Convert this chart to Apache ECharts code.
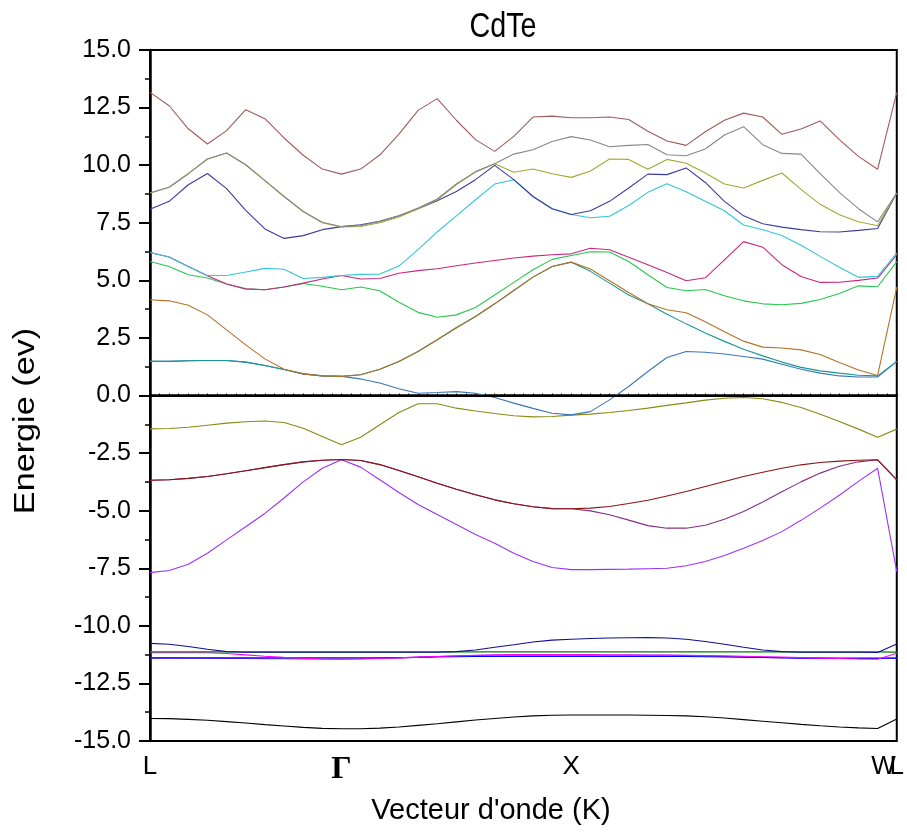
<!DOCTYPE html>
<html>
<head>
<meta charset="utf-8">
<script src="https://cdn.jsdelivr.net/npm/echarts@6/dist/echarts.min.js"></script>
<style>
  html, body { margin: 0; padding: 0; background: #fff; }
  #chart { width: 907px; height: 836px; }
</style>
</head>
<body>
<div id="chart"></div>
<script>
// k-path sampling: 40 points along L - Γ - X - W - L
const kIndex = Array.from({ length: 40 }, (_, i) => i);
const kLabels = ['L', 'Γ', 'X', 'W', 'L'];
const kLabelIndex = [0, 10, 22, 38, 39];

// Energy ticks (eV)
const energyMin = -15;
const energyMax = 15;
const energyStep = 2.5;

// ---- band energies (eV) at each k point ----
// lowest s-like valence band
const bandS = [-14.02,-14.03,-14.06,-14.10,-14.16,-14.22,-14.29,-14.35,-14.41,-14.45,
  -14.47,-14.47,-14.44,-14.39,-14.32,-14.25,-14.17,-14.09,-14.02,-13.96,
  -13.91,-13.88,-13.87,-13.87,-13.87,-13.87,-13.88,-13.89,-13.91,-13.95,
  -14.00,-14.07,-14.14,-14.21,-14.28,-14.34,-14.39,-14.43,-14.46,-14.04];

// Cd 4d manifold
const bandD1 = [-10.76,-10.80,-10.90,-11.02,-11.12,-11.15,-11.15,-11.15,-11.15,-11.15,
  -11.15,-11.15,-11.15,-11.15,-11.15,-11.15,-11.12,-11.05,-10.93,-10.82,
  -10.70,-10.62,-10.58,-10.55,-10.53,-10.52,-10.51,-10.53,-10.58,-10.68,
  -10.80,-10.93,-11.05,-11.12,-11.15,-11.15,-11.15,-11.15,-11.16,-10.79];
const bandD2 = [-11.13,-11.13,-11.13,-11.13,-11.13,-11.13,-11.13,-11.13,-11.13,-11.13,
  -11.13,-11.13,-11.13,-11.13,-11.13,-11.13,-11.13,-11.13,-11.13,-11.13,
  -11.13,-11.13,-11.13,-11.13,-11.13,-11.13,-11.13,-11.13,-11.13,-11.13,
  -11.13,-11.13,-11.13,-11.13,-11.13,-11.13,-11.13,-11.13,-11.13,-11.14];
const bandD3 = [-11.17,-11.17,-11.17,-11.17,-11.20,-11.26,-11.32,-11.37,-11.41,-11.44,
  -11.45,-11.44,-11.42,-11.39,-11.36,-11.33,-11.30,-11.28,-11.26,-11.25,
  -11.25,-11.25,-11.25,-11.25,-11.26,-11.26,-11.27,-11.27,-11.28,-11.29,
  -11.30,-11.32,-11.34,-11.36,-11.38,-11.40,-11.42,-11.44,-11.45,-11.19];
const bandD4 = [-11.39,-11.39,-11.39,-11.39,-11.39,-11.39,-11.39,-11.39,-11.39,-11.39,
  -11.39,-11.39,-11.39,-11.38,-11.37,-11.35,-11.34,-11.33,-11.33,-11.33,
  -11.33,-11.33,-11.33,-11.33,-11.33,-11.33,-11.33,-11.33,-11.33,-11.34,
  -11.35,-11.36,-11.37,-11.38,-11.40,-11.40,-11.40,-11.40,-11.40,-11.40];
const bandD5 = [-11.40,-11.40,-11.41,-11.41,-11.42,-11.42,-11.43,-11.43,-11.44,-11.44,
  -11.44,-11.43,-11.41,-11.39,-11.36,-11.33,-11.31,-11.29,-11.28,-11.27,
  -11.28,-11.28,-11.28,-11.28,-11.28,-11.28,-11.28,-11.28,-11.29,-11.31,
  -11.33,-11.35,-11.37,-11.39,-11.40,-11.41,-11.42,-11.42,-11.42,-11.40];

// upper valence bands
const bandV1 = [-7.69,-7.60,-7.33,-6.85,-6.27,-5.70,-5.12,-4.45,-3.75,-3.16,
  -2.79,-3.11,-3.66,-4.21,-4.73,-5.17,-5.60,-6.03,-6.41,-6.85,
  -7.21,-7.47,-7.56,-7.56,-7.55,-7.54,-7.52,-7.50,-7.39,-7.21,
  -6.95,-6.63,-6.30,-5.91,-5.42,-4.89,-4.33,-3.73,-3.16,-7.65];
const bandV2 = [-3.68,-3.66,-3.60,-3.52,-3.40,-3.27,-3.13,-3.00,-2.88,-2.81,
  -2.78,-2.82,-3.00,-3.26,-3.53,-3.81,-4.07,-4.31,-4.53,-4.70,
  -4.83,-4.91,-4.92,-5.01,-5.18,-5.41,-5.65,-5.76,-5.76,-5.63,
  -5.37,-5.04,-4.62,-4.18,-3.75,-3.37,-3.07,-2.88,-2.79,-3.66];
const bandV3 = [-3.68,-3.66,-3.60,-3.52,-3.40,-3.27,-3.13,-3.00,-2.88,-2.81,
  -2.78,-2.82,-3.00,-3.26,-3.53,-3.81,-4.07,-4.31,-4.53,-4.70,
  -4.83,-4.91,-4.92,-4.89,-4.82,-4.69,-4.55,-4.36,-4.17,-3.95,
  -3.73,-3.52,-3.33,-3.16,-3.01,-2.91,-2.85,-2.81,-2.79,-3.66];
const bandV4 = [-1.45,-1.43,-1.38,-1.29,-1.20,-1.14,-1.11,-1.17,-1.42,-1.78,
  -2.14,-1.81,-1.27,-0.74,-0.36,-0.36,-0.55,-0.67,-0.78,-0.88,
  -0.93,-0.91,-0.85,-0.81,-0.74,-0.65,-0.55,-0.43,-0.32,-0.20,
  -0.12,-0.09,-0.14,-0.30,-0.52,-0.81,-1.13,-1.46,-1.81,-1.46];

// conduction bands
const bandC1 = [1.48,1.48,1.51,1.52,1.52,1.45,1.30,1.13,0.94,0.85,
  0.83,0.72,0.54,0.29,0.10,0.13,0.17,0.10,-0.09,-0.33,
  -0.56,-0.77,-0.84,-0.70,-0.19,0.39,1.04,1.65,1.91,1.88,
  1.80,1.69,1.58,1.36,1.14,0.97,0.85,0.80,0.80,1.48];
const bandC2 = [1.48,1.48,1.51,1.52,1.52,1.45,1.30,1.13,0.94,0.85,
  0.83,0.90,1.14,1.48,1.91,2.42,2.95,3.43,3.98,4.56,
  5.14,5.60,5.79,5.39,4.88,4.36,3.98,3.53,3.11,2.71,
  2.35,2.01,1.72,1.45,1.22,1.07,0.97,0.88,0.85,1.48];
const bandC3 = [4.16,4.11,3.92,3.50,2.85,2.20,1.59,1.14,0.94,0.85,
  0.83,0.90,1.14,1.48,1.91,2.42,2.93,3.43,3.98,4.56,
  5.14,5.60,5.79,5.49,4.98,4.47,3.98,3.72,3.59,3.20,
  2.77,2.36,2.10,2.06,1.98,1.78,1.43,1.11,0.87,4.71];
const bandC4 = [5.82,5.60,5.24,5.10,4.84,4.63,4.59,4.71,4.86,4.74,
  4.59,4.71,4.55,4.05,3.61,3.40,3.50,3.82,4.36,4.91,
  5.46,5.91,6.08,6.24,6.23,5.82,5.24,4.69,4.55,4.60,
  4.33,4.11,3.98,3.94,4.00,4.17,4.43,4.76,4.72,5.81];
const bandC5 = [6.21,6.01,5.60,5.20,4.84,4.63,4.59,4.71,4.88,5.06,
  5.21,5.06,5.08,5.31,5.42,5.50,5.63,5.75,5.86,5.97,
  6.05,6.11,6.15,6.39,6.33,6.00,5.68,5.34,4.98,5.11,
  5.89,6.68,6.44,5.68,5.17,4.91,4.92,5.00,5.10,6.11];
const bandC6 = [6.21,6.01,5.60,5.21,5.21,5.36,5.52,5.48,5.08,5.13,
  5.21,5.26,5.27,5.62,6.33,7.10,7.80,8.50,9.18,9.37,
  8.64,8.11,7.86,7.72,7.78,8.25,8.82,9.19,8.85,8.43,
  8.02,7.40,7.20,6.95,6.52,6.04,5.57,5.13,5.17,6.18];
const bandC7 = [8.09,8.43,9.15,9.64,8.98,8.04,7.23,6.82,6.94,7.20,
  7.33,7.41,7.56,7.80,8.11,8.46,8.86,9.37,9.99,9.37,
  8.64,8.11,7.86,8.02,8.43,9.01,9.61,9.59,9.88,9.25,
  8.43,7.80,7.46,7.31,7.20,7.11,7.10,7.17,7.25,8.79];
const bandC8 = [8.79,9.04,9.63,10.27,10.53,10.02,9.33,8.64,7.99,7.50,
  7.32,7.34,7.50,7.75,8.11,8.50,9.16,9.70,10.06,9.69,
  9.83,9.63,9.47,9.75,10.27,10.25,9.82,10.25,10.08,9.66,
  9.18,9.01,9.34,9.66,8.95,8.30,7.85,7.54,7.37,8.79];
const bandC9 = [8.79,9.04,9.63,10.27,10.53,10.02,9.33,8.64,7.99,7.52,
  7.33,7.38,7.56,7.80,8.14,8.53,9.18,9.72,10.06,10.48,
  10.67,11.03,11.24,11.09,10.80,10.86,10.90,10.45,10.41,10.70,
  11.31,11.67,10.89,10.51,10.48,9.63,8.82,8.11,7.54,8.79];
const bandC10 = [13.16,12.58,11.58,10.92,11.50,12.41,12.02,11.18,10.43,9.83,
  9.61,9.83,10.44,11.35,12.38,12.89,11.95,11.11,10.60,11.25,
  12.09,12.13,12.06,12.06,12.09,11.98,11.47,11.05,10.86,11.45,
  11.95,12.26,12.09,11.34,11.57,11.92,11.11,10.38,9.82,13.16];

// drawing order (first = bottom) with line colours
const bandList = [
  [bandS, '#000000'],
  [bandD5, '#7b2fbe'],
  [bandD4, '#0000ff'],
  [bandD3, '#ff00ff'],
  [bandD2, '#008000'],
  [bandD1, '#101090'],
  [bandV1, '#9a32ff'],
  [bandV2, '#872f82'],
  [bandV3, '#8c1414'],
  [bandV4, '#8a8a14'],
  [bandC1, '#3b76b8'],
  [bandC2, '#1a9696'],
  [bandC3, '#b47228'],
  [bandC4, '#28c850'],
  [bandC5, '#c8287f'],
  [bandC6, '#33c6d6'],
  [bandC7, '#3b3b9c'],
  [bandC8, '#a3a832'],
  [bandC9, '#888888'],
  [bandC10, '#a05a5a']
];

const sans = '"Liberation Sans", Arial, sans-serif';
const serif = '"Liberation Serif", "DejaVu Serif", serif';

const series = bandList.map(([values, color], n) => {
  const s = {
    type: 'line',
    xAxisIndex: 0,
    yAxisIndex: 0,
    data: kIndex.map(i => [i, values[i]]),
    symbol: 'none',
    silent: true,
    lineStyle: { color: color, width: 1.1 },
    itemStyle: { color: color },
    z: 2 + n * 0.01
  };
  if (n === 0) {
    // Fermi level reference line
    s.markLine = {
      silent: true,
      symbol: ['none', 'none'],
      label: { show: false },
      lineStyle: { color: '#000', width: 2, type: 'solid' },
      data: [{ yAxis: 0 }]
    };
  }
  return s;
});

const halfSteps = Array.from({ length: 79 }, (_, i) => i * 0.5);
const mainPoints = kLabelIndex.filter((_, j) => kLabels[j] !== 'W');
const wPoints = kLabelIndex.filter((_, j) => kLabels[j] === 'W');

function kLabel(v) {
  const t = kLabels[kLabelIndex.indexOf(v)];
  if (t === 'Γ') return '{g|' + t + '}';
  if (t === 'W') return '{w|' + t + '}';
  return '{n|' + t + '}';
}
const kRich = {
  n: { fontFamily: sans, fontSize: 26, color: '#000' },
  w: { fontFamily: sans, fontSize: 26, color: '#000', padding: [0, 0, 0, 12] },
  g: { fontFamily: serif, fontWeight: 'bold', fontSize: 32, color: '#000' }
};

const chart = echarts.init(document.getElementById('chart'), null, { renderer: 'canvas' });
chart.setOption({
  animation: false,
  backgroundColor: '#ffffff',
  grid: {
    left: 150, top: 50, width: 751, height: 691,
    show: true, borderColor: '#000', borderWidth: 2, backgroundColor: 'transparent'
  },
  xAxis: [
    {
      type: 'value',
      min: 0,
      max: 39,
      position: 'bottom',
      axisLine: { show: true, lineStyle: { color: '#000', width: 2.5 } },
      axisTick: {
        show: true, inside: true, length: 2,
        customValues: halfSteps,
        lineStyle: { color: '#000', width: 1 }
      },
      splitLine: { show: false },
      axisLabel: {
        show: true,
        customValues: mainPoints,
        showMinLabel: true,
        showMaxLabel: true,
        hideOverlap: false,
        margin: 13,
        color: '#000',
        formatter: kLabel,
        rich: kRich
      }
    },
    {
      // second label row for W, which sits right next to the closing L
      type: 'value',
      min: 0,
      max: 39,
      position: 'bottom',
      offset: 0,
      axisLine: { show: false },
      axisTick: { show: false },
      splitLine: { show: false },
      axisLabel: {
        show: true,
        customValues: wPoints,
        showMinLabel: true,
        showMaxLabel: true,
        hideOverlap: false,
        margin: 13,
        color: '#000',
        formatter: kLabel,
        rich: kRich
      }
    }
  ],
  yAxis: {
    type: 'value',
    min: energyMin,
    max: energyMax,
    interval: energyStep,
    axisLine: { show: true, lineStyle: { color: '#000', width: 2.5 } },
    axisTick: { show: true, inside: false, length: 11, lineStyle: { color: '#000', width: 2 } },
    minorTick: { show: true, splitNumber: 2, length: 5, lineStyle: { color: '#000', width: 1.5 } },
    splitLine: { show: false },
    minorSplitLine: { show: false },
    axisLabel: {
      margin: 19,
      fontFamily: sans,
      fontSize: 25,
      color: '#000',
      formatter: (v) => v.toFixed(1)
    }
  },
  graphic: [
    {
      type: 'text',
      x: 503, y: 27,
      scaleX: 0.82,
      silent: true,
      style: {
        text: 'CdTe',
        fontFamily: sans, fontSize: 35,
        fill: '#000',
        textAlign: 'center', textVerticalAlign: 'middle'
      }
    },
    {
      type: 'text',
      x: 26, y: 421,
      rotation: Math.PI / 2,
      scaleX: 1.14,
      silent: true,
      style: {
        text: 'Energie (ev)',
        fontFamily: sans, fontSize: 30,
        fill: '#000',
        textAlign: 'center', textVerticalAlign: 'middle'
      }
    },
    {
      type: 'text',
      x: 491, y: 811,
      silent: true,
      style: {
        text: "Vecteur d'onde (K)",
        fontFamily: sans, fontSize: 29,
        fill: '#000',
        textAlign: 'center', textVerticalAlign: 'middle'
      }
    }
  ],
  series: series
});
</script>
</body>
</html>
